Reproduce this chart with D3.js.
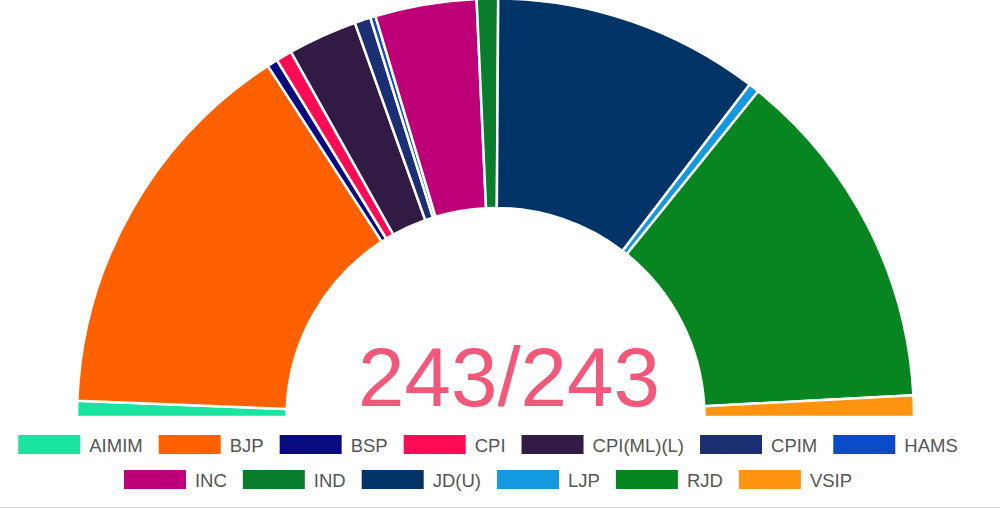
<!DOCTYPE html>
<html>
<head>
<meta charset="utf-8">
<script src="https://cdn.jsdelivr.net/npm/d3@7"></script>
<style>
  html, body { margin: 0; padding: 0; background: #fff; }
  svg { display: block; }
</style>
</head>
<body>
<svg id="chart" width="1000" height="509"></svg>
<script>
const parties = ["AIMIM","BJP","BSP","CPI","CPI(ML)(L)","CPIM","HAMS","INC","IND","JD(U)","LJP","RJD","VSIP"];
const seats   = [3, 74, 2, 3, 13, 3, 1, 19, 4, 50, 2, 65, 4];
const colors  = ["#1be3a0","#ff6000","#0a0a80","#ff0a55","#311b45","#1d2f73","#0a4bc8","#bd0078","#0a7d2c","#003366","#1499e0","#078521","#ff9410"];
const centerLabel = "243/243";
const legendRows = [7, 6];

const svg = d3.select("#chart");
const W = 1000, H = 509;
const cx = 495.5, cy = 417;

const data = parties.map((p, i) => ({ party: p, seats: seats[i], color: colors[i] }));

const pie = d3.pie().value(d => d.seats).sort(null)
  .startAngle(-Math.PI / 2).endAngle(Math.PI / 2);
const arc = d3.arc().innerRadius(209).outerRadius(418.5);

const g = svg.append("g").attr("transform", `translate(${cx},${cy})`);
g.selectAll("path").data(pie(data)).join("path")
  .attr("d", arc)
  .attr("fill", d => d.data.color)
  .attr("stroke", "#fff")
  .attr("stroke-width", 2.5)
  .attr("stroke-linejoin", "round");

svg.append("text")
  .attr("x", 509).attr("y", 405.5)
  .attr("text-anchor", "middle")
  .attr("font-family", "Liberation Sans, Arial, sans-serif")
  .attr("font-size", 83.5)
  .attr("fill", "#f2587a")
  .text(centerLabel);

// legend
const symW = 62, symH = 19, txtGap = 9, itemGap = 16;
const rowTops = [435, 470];
const legendCenter = 488;
let idx = 0;
legendRows.forEach((n, r) => {
  const items = data.slice(idx, idx + n);
  idx += n;
  const row = svg.append("g");
  const widths = [];
  const groups = items.map(d => {
    const ig = row.append("g");
    ig.append("rect").attr("width", symW).attr("height", symH).attr("fill", d.color);
    const t = ig.append("text")
      .attr("x", symW + txtGap).attr("y", symH - 2.5)
      .attr("font-family", "Liberation Sans, Arial, sans-serif")
      .attr("font-size", 18.5)
      .attr("fill", "#555")
      .text(d.party);
    widths.push(symW + txtGap + t.node().getComputedTextLength());
    return ig;
  });
  const total = d3.sum(widths) + itemGap * (n - 1);
  let x = legendCenter - total / 2;
  groups.forEach((ig, i) => {
    ig.attr("transform", `translate(${x},${rowTops[r]})`);
    x += widths[i] + itemGap;
  });
});

svg.append("line")
  .attr("x1", 0).attr("x2", W).attr("y1", 507.5).attr("y2", 507.5)
  .attr("stroke", "#ddd").attr("stroke-width", 1);
</script>
</body>
</html>
